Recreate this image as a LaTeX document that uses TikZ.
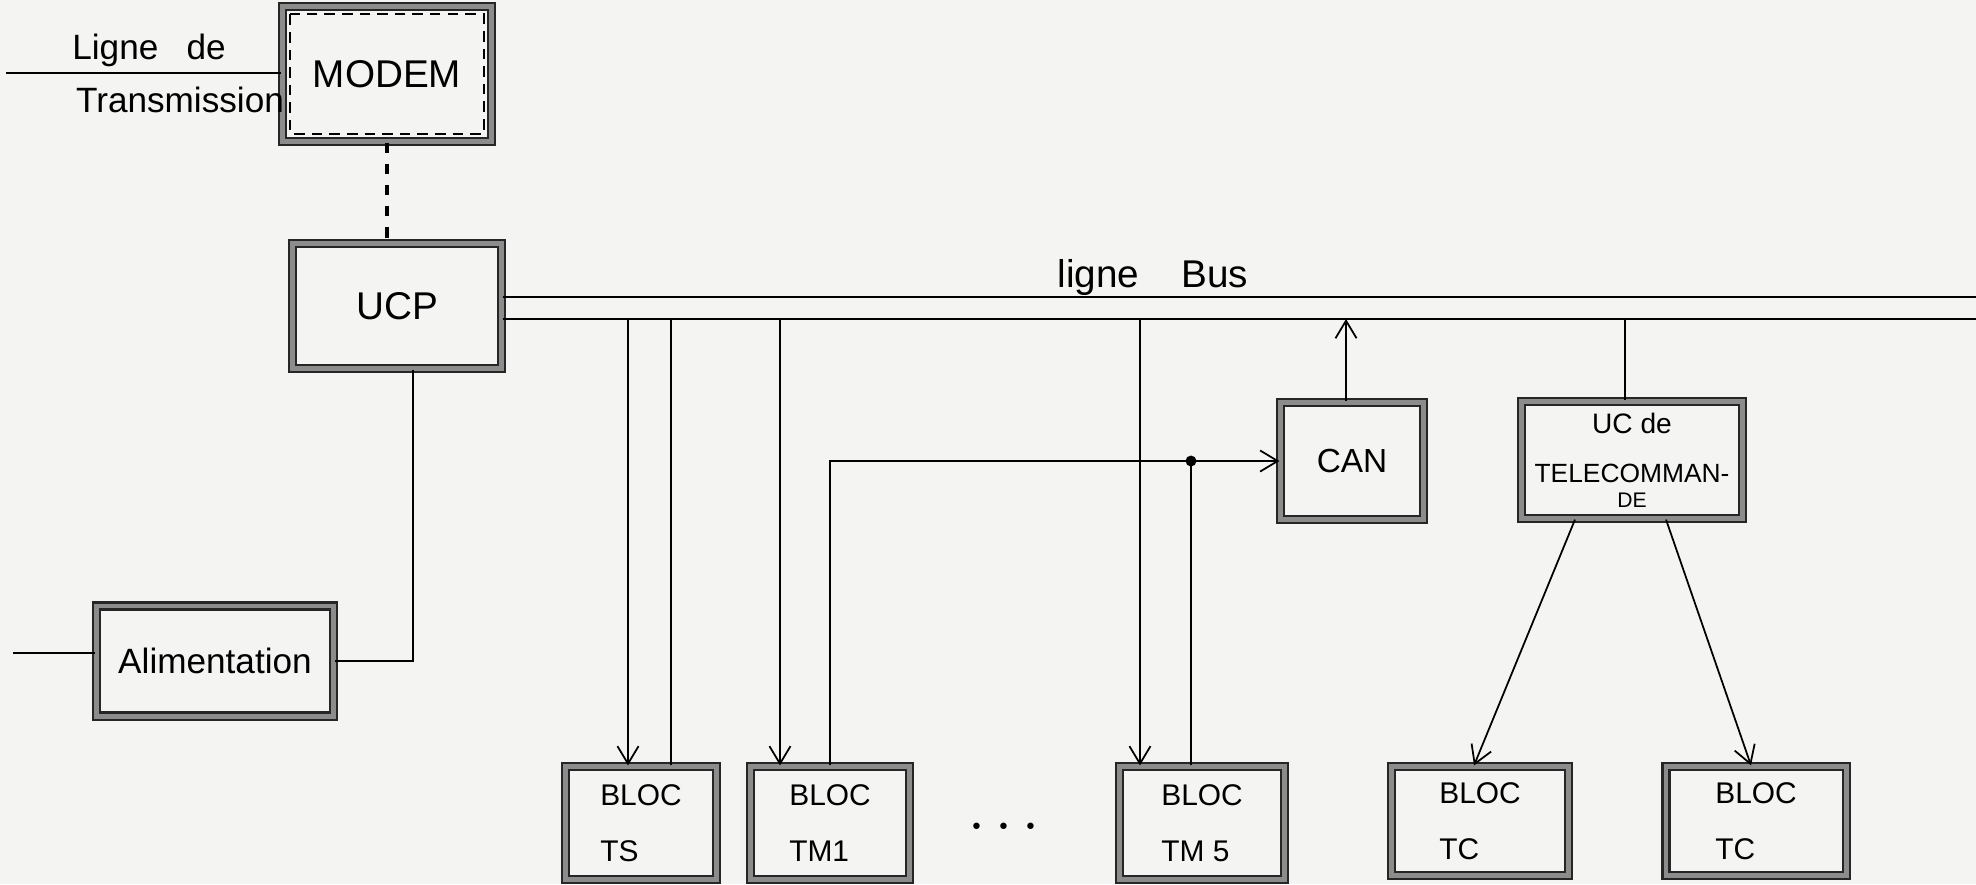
\documentclass[tikz,border=0pt]{standalone}
\usepackage{fontspec}
\setmainfont{Liberation Sans}
\usetikzlibrary{arrows.meta, calc}
\definecolor{paper}{HTML}{F4F4F2}
\definecolor{inkgray}{HTML}{8C8C8C}

\tikzset{
  blockbox/.style={draw=black!85, line width=0.6pt, double=inkgray, double distance=1.4pt,
    align=left, inner sep=2pt, font=\fontsize{8.5}{10}\selectfont},
  sigline/.style={line width=0.5pt},
  sigarrow/.style={sigline, -{Straight Barb[length=5pt, width=6pt]}},
  busline/.style={line width=0.8pt},
}

\begin{document}
\begin{tikzpicture}[x=0.01cm, y=-0.01cm]
  \fill[paper] (0,0) rectangle (1976,884);
  \useasboundingbox (0,0) rectangle (1976,884);

  % blocs
  \node[blockbox, minimum width=2.09cm, minimum height=1.35cm, font=\fontsize{11}{13}\selectfont] (modem) at (387,74) {MODEM};
  \draw[dashed, dash pattern=on 3pt off 2pt, line width=0.6pt] ([shift={(9,9)}]modem.north west) rectangle ([shift={(-9,-9)}]modem.south east);
  \node[blockbox, minimum width=2.09cm, minimum height=1.25cm, font=\fontsize{11}{13}\selectfont] (ucp) at (397,306) {UCP};
  \node[blockbox, minimum width=2.37cm, minimum height=1.10cm, font=\fontsize{10}{12}\selectfont] (alim) at (215,661) {Alimentation};
  \node[blockbox, minimum width=1.43cm, minimum height=1.17cm, font=\fontsize{9.5}{11}\selectfont] (can) at (1352,461) {CAN};
  \node[blockbox, minimum width=2.21cm, minimum height=1.17cm, align=center, font=\fontsize{8}{9}\selectfont] (uctc) at (1632,460)
    {UC de\\[5pt]{\fontsize{7.5}{8}\selectfont TELECOMMAN-}\\[-2pt]{\fontsize{6}{7}\selectfont DE}};
  \node[blockbox, minimum width=1.51cm, minimum height=1.13cm] (ts) at (641,823) {BLOC\\[6pt]TS};
  \node[blockbox, minimum width=1.59cm, minimum height=1.13cm] (tmone) at (830,823) {BLOC\\[6pt]TM1};
  \node[font=\LARGE] (dots) at (1004,828) {$\cdots$};
  \node[blockbox, minimum width=1.65cm, minimum height=1.13cm] (tmfive) at (1202,823) {BLOC\\[6pt]TM 5};
  \node[blockbox, minimum width=1.77cm, minimum height=1.09cm] (tcone) at (1480,821) {BLOC\\[6pt]TC};
  \node[blockbox, minimum width=1.80cm, minimum height=1.09cm] (tctwo) at (1756,821) {BLOC\\[6pt]TC};

  % ligne de transmission
  \node[font=\fontsize{10}{12}\selectfont] (txtop) at (149,50) {Ligne\hspace{8pt}de};
  \node[font=\fontsize{10}{12}\selectfont] (txbot) at (180,100) {Transmission};
  \coordinate (txend) at (6,73);
  \draw[sigline] (txend) -- (txend -| modem.west);
  \draw[dashed, line width=1pt] (modem.south) -- (modem.south |- ucp.north);

  % ligne bus
  \coordinate (bushi) at (1976,297);
  \coordinate (buslo) at (1976,319);
  \draw[busline] (ucp.east |- bushi) -- (bushi);
  \draw[busline] (ucp.east |- buslo) -- (buslo);
  \node[font=\fontsize{11}{13}\selectfont, anchor=base] (buslabel) at (1153,287) {ligne\hspace{12pt}Bus};

  % alimentation
  \draw[sigline] ([xshift=0.16cm]ucp.south) |- (alim.east);
  \coordinate (alimend) at (13,653);
  \draw[sigline] (alimend) -- (alimend -| alim.west);

  % liaisons bus - blocs
  \draw[sigarrow] ([xshift=-0.13cm]ts.north |- buslo) -- ([xshift=-0.13cm]ts.north);
  \draw[sigline] ([xshift=0.30cm]ts.north) -- ([xshift=0.30cm]ts.north |- buslo);
  \draw[sigarrow] ([xshift=-0.50cm]tmone.north |- buslo) -- ([xshift=-0.50cm]tmone.north);
  \draw[sigarrow] (tmone.north) |- (can.west);
  \draw[sigarrow] ([xshift=-0.62cm]tmfive.north |- buslo) -- ([xshift=-0.62cm]tmfive.north);
  \draw[sigline] ([xshift=-0.11cm]tmfive.north) -- ([xshift=-0.11cm]tmfive.north |- can.west)
    node[circle, fill, inner sep=1.1pt] (join) {};
  \draw[sigarrow] ([xshift=-0.06cm]can.north) -- ([xshift=-0.06cm]can.north |- buslo);
  \draw[sigline] ([xshift=-0.07cm]uctc.north) -- ([xshift=-0.07cm]uctc.north |- buslo);
  \draw[sigarrow] ([xshift=-0.57cm]uctc.south) -- ([xshift=-0.06cm]tcone.north);
  \draw[sigarrow] ([xshift=0.34cm]uctc.south) -- ([xshift=-0.05cm]tctwo.north);
\end{tikzpicture}
\end{document}
